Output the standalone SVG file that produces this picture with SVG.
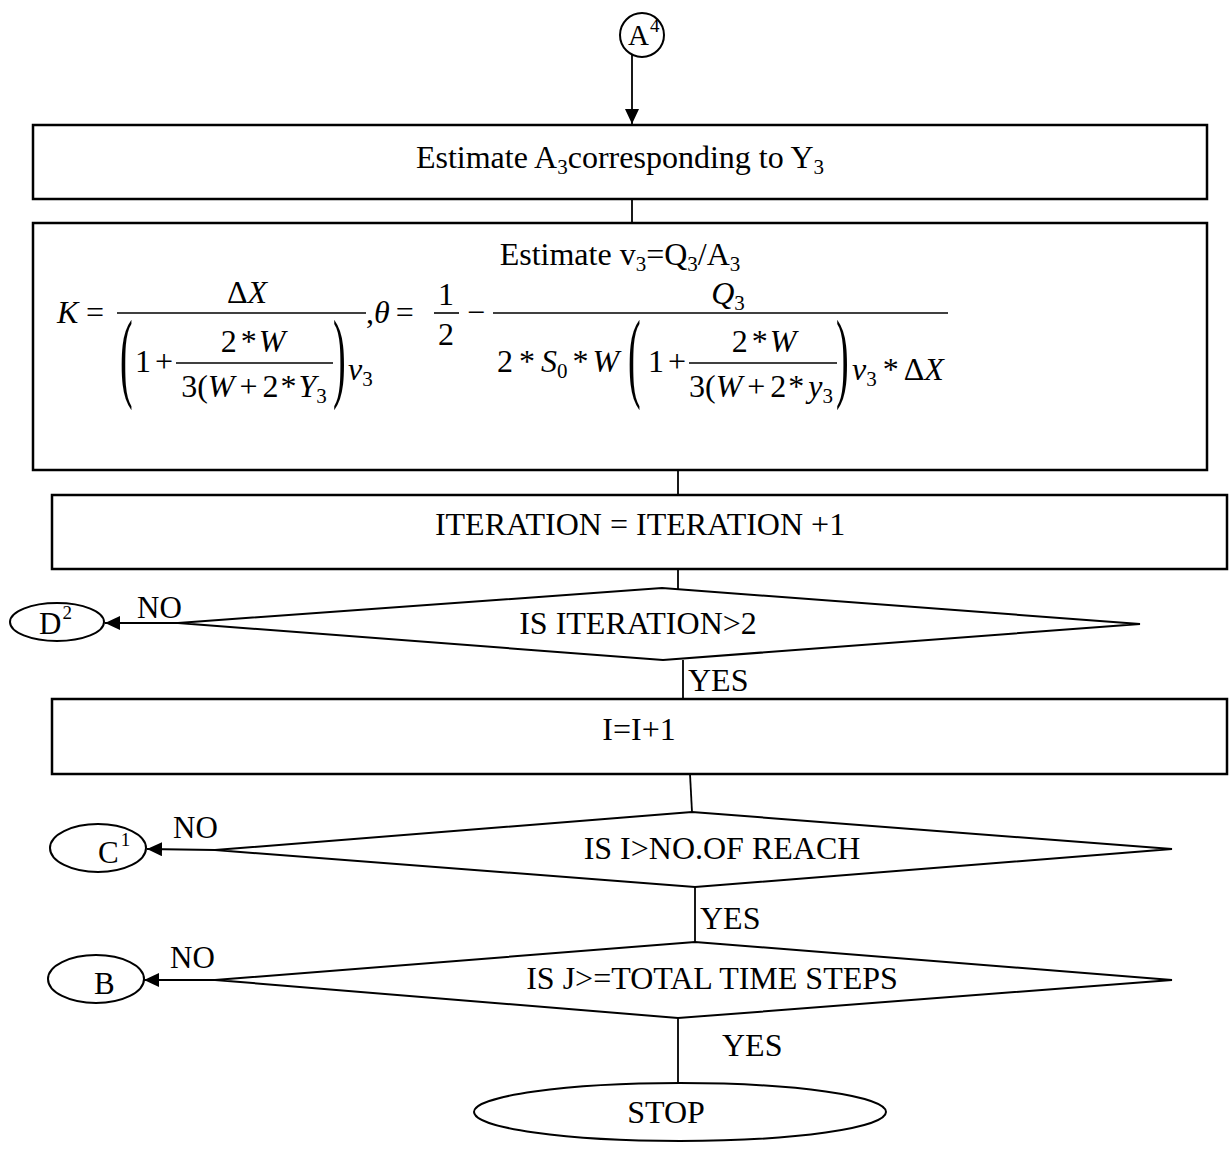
<svg xmlns="http://www.w3.org/2000/svg" width="1229" height="1149" viewBox="0 0 1229 1149">
<style>
text{font-family:"Liberation Serif","Times New Roman",serif;fill:#000}
.lbl{font-size:32px}
.m{font-size:32px}
.i{font-style:italic}
.sub{font-size:21px}
.box{fill:none;stroke:#000;stroke-width:2.5}
.dia{fill:none;stroke:#000;stroke-width:2}
.ell{fill:none;stroke:#000;stroke-width:2}
.con{fill:none;stroke:#000;stroke-width:1.8}
.frac{stroke:#000;stroke-width:1.6}
.par{font-size:38px}
.tag{font-size:31px}
.sup{font-size:19px}
</style>
<defs>
<marker id="arr" markerUnits="userSpaceOnUse" markerWidth="16" markerHeight="14" refX="15" refY="7" orient="auto">
<path d="M0,0 L15,7 L0,14 Z" fill="#000"/>
</marker>
</defs>
<rect width="1229" height="1149" fill="#fff"/>

<g id="connectors">
<line class="con" x1="632" y1="55" x2="632" y2="124" marker-end="url(#arr)"/>
<line class="con" x1="632" y1="199" x2="632" y2="223"/>
<line class="con" x1="678" y1="470" x2="678" y2="495"/>
<line class="con" x1="678" y1="569" x2="678" y2="589"/>
<line class="con" x1="178" y1="623" x2="105" y2="623" marker-end="url(#arr)"/>
<line class="con" x1="683" y1="660" x2="683" y2="699"/>
<line class="con" x1="690" y1="774" x2="692" y2="812"/>
<line class="con" x1="215" y1="850" x2="147" y2="849" marker-end="url(#arr)"/>
<line class="con" x1="695" y1="887" x2="695" y2="942"/>
<line class="con" x1="215" y1="980" x2="144" y2="980" marker-end="url(#arr)"/>
<line class="con" x1="678" y1="1018" x2="678" y2="1083"/>
<text class="tag" x="137" y="618">NO</text>
<text class="lbl" x="688" y="691">YES</text>
<text class="tag" x="173" y="838">NO</text>
<text class="lbl" x="700" y="929">YES</text>
<text class="tag" x="170" y="968">NO</text>
<text class="lbl" x="722" y="1056">YES</text>
</g>

<g id="nodeA4">
<circle class="ell" cx="642" cy="35" r="22"/>
<text x="628" y="45" style="font-size:29px">A<tspan dx="1" dy="-13" class="sup">4</tspan></text>
</g>

<g id="box1">
<rect class="box" x="33" y="125" width="1174" height="74"/>
<text class="lbl" x="620" y="168" text-anchor="middle">Estimate A<tspan class="sub" dy="6">3</tspan><tspan dy="-6">corresponding to Y</tspan><tspan class="sub" dy="6">3</tspan></text>
</g>

<g id="box2">
<rect class="box" x="33" y="223" width="1174" height="247"/>
<text class="lbl" x="620" y="265" text-anchor="middle">Estimate v<tspan class="sub" dy="6">3</tspan><tspan dy="-6">=Q</tspan><tspan class="sub" dy="6">3</tspan><tspan dy="-6">/A</tspan><tspan class="sub" dy="6">3</tspan></text>
<!-- K formula -->
<text class="m i" x="57" y="323">K</text>
<text class="m" x="86" y="323">=</text>
<line class="frac" x1="117" y1="313" x2="366" y2="313"/>
<text class="m" x="247" y="303" text-anchor="middle">Δ<tspan class="i">X</tspan></text>
<text class="par" transform="translate(120,389) scale(1,2.6)">(</text>
<text class="m" x="135" y="372">1<tspan dx="4">+</tspan></text>
<line class="frac" x1="176" y1="363" x2="333" y2="363"/>
<text class="m" x="253" y="352" text-anchor="middle">2<tspan dx="4">*</tspan><tspan dx="2" class="i">W</tspan></text>
<text class="m" x="254" y="397" text-anchor="middle">3(<tspan class="i">W</tspan><tspan dx="5">+</tspan><tspan dx="5">2</tspan><tspan dx="2">*</tspan><tspan dx="2" class="i">Y</tspan><tspan class="sub" dy="6">3</tspan></text>
<text class="par" transform="translate(333,389) scale(1,2.6)">)</text>
<text class="m i" x="348" y="380">v<tspan class="sub" style="font-style:normal" dy="6">3</tspan></text>
<!-- theta formula -->
<text class="m" x="366" y="323">,<tspan class="i">θ</tspan><tspan dx="6">=</tspan></text>
<text class="m" x="446" y="305" text-anchor="middle">1</text>
<line class="frac" x1="434" y1="313" x2="459" y2="313"/>
<text class="m" x="446" y="345" text-anchor="middle">2</text>
<text class="m" x="467" y="323">−</text>
<line class="frac" x1="493" y1="313" x2="948" y2="313"/>
<text class="m i" x="728" y="304" text-anchor="middle">Q<tspan class="sub" style="font-style:normal" dy="6">3</tspan></text>
<text class="m" x="497" y="372">2<tspan dx="6">*</tspan><tspan dx="6" class="i">S</tspan><tspan class="sub" dy="6">0</tspan><tspan dx="5" dy="-6">*</tspan><tspan dx="4" class="i">W</tspan></text>
<text class="par" transform="translate(628,389) scale(1,2.6)">(</text>
<text class="m" x="648" y="372">1<tspan dx="4">+</tspan></text>
<line class="frac" x1="689" y1="363" x2="837" y2="363"/>
<text class="m" x="764" y="352" text-anchor="middle">2<tspan dx="4">*</tspan><tspan dx="2" class="i">W</tspan></text>
<text class="m" x="761" y="397" text-anchor="middle">3(<tspan class="i">W</tspan><tspan dx="5">+</tspan><tspan dx="5">2</tspan><tspan dx="2">*</tspan><tspan dx="4" class="i">y</tspan><tspan class="sub" dy="6">3</tspan></text>
<text class="par" transform="translate(836,389) scale(1,2.6)">)</text>
<text class="m" x="852" y="380"><tspan class="i">v</tspan><tspan class="sub" dy="6">3</tspan><tspan dx="6" dy="-6">*</tspan><tspan dx="5">Δ</tspan><tspan class="i">X</tspan></text>
</g>

<g id="box3">
<rect class="box" x="52" y="495" width="1175" height="74"/>
<text class="lbl" x="640" y="535" text-anchor="middle">ITERATION = ITERATION +1</text>
</g>

<g id="dec1">
<polygon class="dia" points="178,623 662,588 1140,624 663,660"/>
<text class="lbl" x="638" y="634" text-anchor="middle">IS ITERATION&gt;2</text>
</g>

<g id="nodeD2">
<ellipse class="ell" cx="57" cy="622" rx="47" ry="19"/>
<text x="39" y="634" class="tag">D<tspan dx="1" dy="-15" class="sup">2</tspan></text>
</g>

<g id="box4">
<rect class="box" x="52" y="699" width="1175" height="75"/>
<text class="lbl" x="639" y="740" text-anchor="middle">I=I+1</text>
</g>

<g id="dec2">
<polygon class="dia" points="215,850 692,812 1172,849 695,887"/>
<text class="lbl" x="722" y="859" text-anchor="middle">IS I&gt;NO.OF REACH</text>
</g>

<g id="nodeC1">
<ellipse class="ell" cx="98" cy="848" rx="48" ry="24"/>
<text x="98" y="863" class="tag">C<tspan dx="2" dy="-17" class="sup">1</tspan></text>
</g>

<g id="dec3">
<polygon class="dia" points="215,980 695,942 1172,980 678,1018"/>
<text class="lbl" x="712" y="989" text-anchor="middle">IS J&gt;=TOTAL TIME STEPS</text>
</g>

<g id="nodeB">
<ellipse class="ell" cx="96" cy="979" rx="48" ry="24"/>
<text x="94" y="994" class="tag">B</text>
</g>

<g id="stop">
<ellipse class="ell" cx="680" cy="1112" rx="206" ry="29"/>
<text class="lbl" x="666" y="1123" text-anchor="middle">STOP</text>
</g>
</svg>
